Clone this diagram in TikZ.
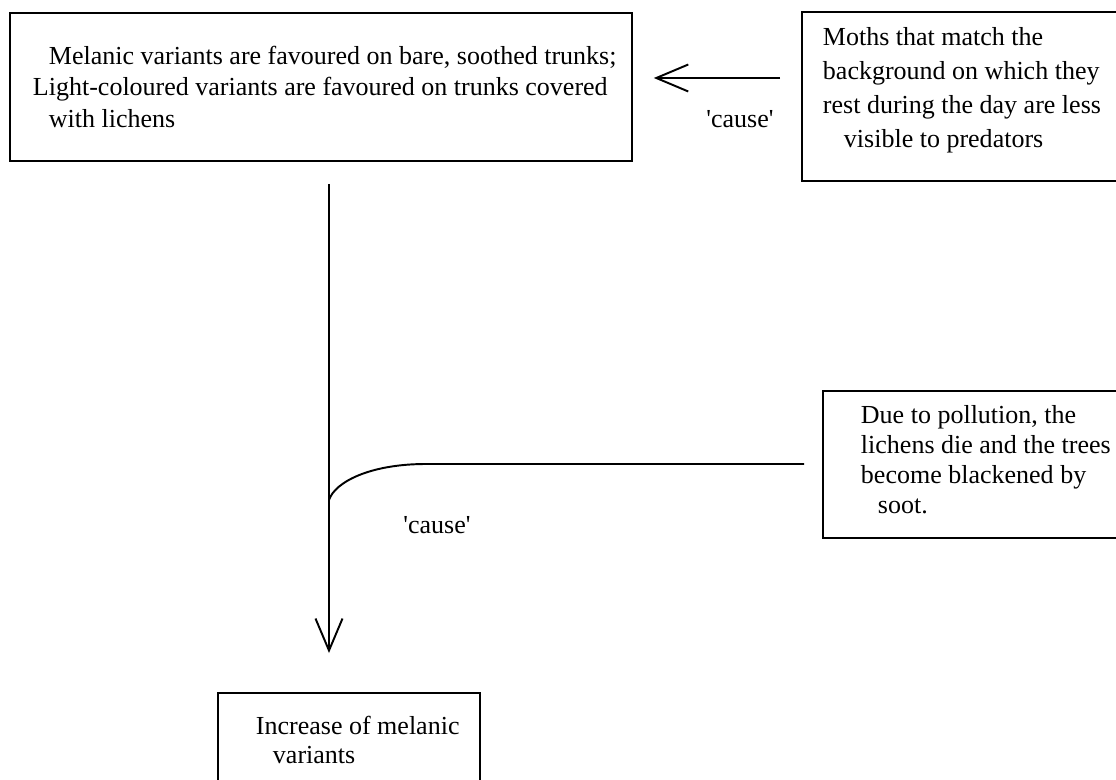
\documentclass[tikz,border=0pt]{standalone}
\usepackage{fontspec}
\setmainfont{Liberation Serif}
\usetikzlibrary{arrows.meta}

\begin{document}
\begin{tikzpicture}[x=0.02cm,y=-0.02cm,line width=1.1pt,font=\fontsize{14.8}{17}\selectfont]

      \useasboundingbox (0,0) rectangle (1116,780);
      \clip (0,0) rectangle (1116,780);

      \begin{scope}[every node/.style={draw,anchor=north west,align=flush left,inner sep=0pt}]
        \node[minimum width=12.44cm,minimum height=2.96cm,text width=12.44cm,
              font=\fontsize{14.8}{17.9}\selectfont] (1) at (9,12)
          {\hspace*{0.78cm}Melanic variants are favoured on bare, soothed trunks;\\
           \hspace*{0.46cm}Light-coloured variants are favoured on trunks covered\\
           \hspace*{0.78cm}with lichens};
        \node[minimum width=6.58cm,minimum height=3.38cm,text width=6.58cm,text depth=2.4cm,
              font=\fontsize{14.8}{19.3}\selectfont] (2) at (801,11)
          {\hspace*{0.42cm}Moths that match the\\
           \hspace*{0.42cm}background on which they\\
           \hspace*{0.42cm}rest during the day are less\\
           \hspace*{0.84cm}visible to predators};
        \node[minimum width=6.16cm,minimum height=2.94cm,text width=6.16cm,text depth=2.0cm] (3) at (822,390)
          {\hspace*{0.76cm}Due to pollution, the\\
           \hspace*{0.76cm}lichens die and the trees\\
           \hspace*{0.76cm}become blackened by\\
           \hspace*{1.1cm}soot.};
        \node[minimum width=5.24cm,minimum height=1.88cm,text width=5.24cm] (4) at (217,692)
          {\hspace*{0.76cm}Increase of melanic\\
           \hspace*{1.1cm}variants};
      \end{scope}

      \coordinate (5) at (329,500);
      \coordinate (6) at (426,464);

      \begin{scope}[every edge/.style={draw,-{Straight Barb[length=0.64cm,width=0.54cm]}}]
        \path (2.west |- 0,78) edge[shorten <=0.42cm,shorten >=0.42cm] (1.east |- 0,78);
        \path (1.south -| 5) edge[shorten <=0.44cm,shorten >=0.78cm] (4.north -| 5);
      \end{scope}
      \draw[shorten <=0.36cm] (3.west |- 6) -- (6) .. controls (370,464) and (335,482) .. (5);

      \node[anchor=base] (7) at (740,128) {\textquotesingle cause\textquotesingle};
      \node[anchor=base] (8) at (437,533) {\textquotesingle cause\textquotesingle};

\end{tikzpicture}
\end{document}
